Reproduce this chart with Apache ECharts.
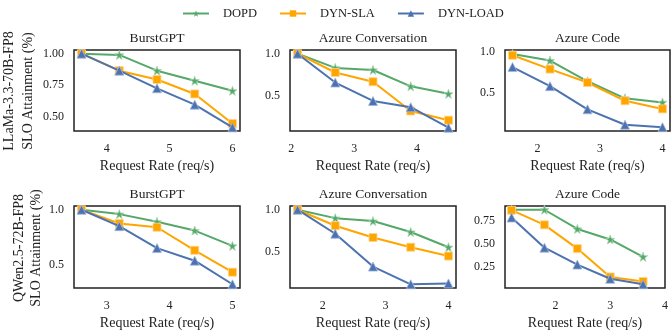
<!DOCTYPE html>
<html>
<head>
<meta charset="utf-8">
<script src="https://cdn.jsdelivr.net/npm/echarts@6/dist/echarts.min.js"></script>
<style>
  html, body { margin: 0; padding: 0; background: #fff; }
  #chart { width: 671px; height: 335px; }
</style>
</head>
<body>
<div id="chart"></div>
<script>
const seriesNames = ['DOPD', 'DYN-SLA', 'DYN-LOAD']
const panelTitles = ['BurstGPT', 'Azure Conversation', 'Azure Code', 'BurstGPT', 'Azure Conversation', 'Azure Code']
const rowLabels = ['LLaMa-3.3-70B-FP8\nSLO Attainment (%)', 'QWen2.5-72B-FP8\nSLO Attainment (%)']

// request rates per panel
const xTL = [3.6, 4.2, 4.8, 5.4, 6.0]
const xTM = [2.1, 2.7, 3.3, 3.9, 4.5]
const xTR = [1.6, 2.2, 2.8, 3.4, 4.0]
const xBL = [2.6, 3.2, 3.8, 4.4, 5.0]
const xBM = [1.6, 2.2, 2.8, 3.4, 4.0]
const xBR = [1.2, 1.8, 2.4, 3.0, 3.6]

// SLO attainment, LLaMa row
const dopdTL = [1.0, 0.99, 0.865, 0.785, 0.705]
const slaTL = [1.0, 0.865, 0.795, 0.68, 0.445]
const loadTL = [1.0, 0.865, 0.725, 0.595, 0.415]
const dopdTM = [1.0, 0.83, 0.805, 0.61, 0.52]
const slaTM = [1.0, 0.775, 0.665, 0.315, 0.205]
const loadTM = [1.0, 0.655, 0.435, 0.36, 0.115]
const dopdTR = [0.975, 0.895, 0.64, 0.43, 0.38]
const slaTR = [0.96, 0.79, 0.625, 0.4, 0.3]
const loadTR = [0.815, 0.58, 0.295, 0.105, 0.075]

// SLO attainment, QWen row
const dopdBL = [1.0, 0.96, 0.89, 0.81, 0.67]
const slaBL = [1.0, 0.875, 0.84, 0.63, 0.43]
const loadBL = [1.0, 0.85, 0.65, 0.535, 0.32]
const dopdBM = [1.0, 0.9, 0.865, 0.735, 0.555]
const slaBM = [1.0, 0.81, 0.67, 0.555, 0.45]
const loadBM = [1.0, 0.715, 0.325, 0.115, 0.125]
const dopdBR = [0.875, 0.875, 0.665, 0.55, 0.36]
const slaBR = [0.87, 0.71, 0.45, 0.14, 0.09]
const loadBR = [0.79, 0.46, 0.275, 0.12, 0.06]

// tick labels
const xTicksTL = [4, 5, 6]
const xTicksTM = [2, 3, 4]
const xTicksTR = [2, 3, 4]
const xTicksBL = [3, 4, 5]
const xTicksBM = [2, 3, 4]
const xTicksBR = [2, 3, 4]
const yTicksTL = [0.5, 0.75, 1.0]
const yTicksTM = [0.5, 1.0]
const yTicksTR = [0.5, 1.0]
const yTicksBL = [0.5, 1.0]
const yTicksBM = [0.5, 1.0]
const yTicksBR = [0.25, 0.5, 0.75]

const panels = [
  { x: xTL, ys: [dopdTL, slaTL, loadTL], xt: xTicksTL, yt: yTicksTL, dec: 2, xr: [3.48, 6.12], yr: [0.386, 1.029] },
  { x: xTM, ys: [dopdTM, slaTM, loadTM], xt: xTicksTM, yt: yTicksTM, dec: 1, xr: [1.98, 4.62], yr: [0.076, 1.044] },
  { x: xTR, ys: [dopdTR, slaTR, loadTR], xt: xTicksTR, yt: yTicksTR, dec: 1, xr: [1.48, 4.12], yr: [0.028, 1.025] },
  { x: xBL, ys: [dopdBL, slaBL, loadBL], xt: xTicksBL, yt: yTicksBL, dec: 1, xr: [2.48, 5.12], yr: [0.286, 1.034] },
  { x: xBM, ys: [dopdBM, slaBM, loadBM], xt: xTicksBM, yt: yTicksBM, dec: 1, xr: [1.48, 4.12], yr: [0.071, 1.044] },
  { x: xBR, ys: [dopdBR, slaBR, loadBR], xt: xTicksBR, yt: yTicksBR, dec: 2, xr: [1.08, 4.0], yr: [0.019, 0.916] },
]

const colors = ['#55a868', '#ffa500', '#4c72b0']
const edges = ['#a6d4b2', '#ffd38a', '#a3b8dc']
const starPath = 'path://M0,-10 L2.35,-3.24 L9.51,-3.09 L3.8,1.24 L5.88,8.09 L0,4 L-5.88,8.09 L-3.8,1.24 L-9.51,-3.09 L-2.35,-3.24 Z'
const symbols = [starPath, 'rect', 'triangle']
const symbolSizes = [9, 8, 9]

const font = 'Liberation Serif'
const cols = [{ left: 74, width: 166 }, { left: 290, width: 166 }, { left: 505, width: 165 }]
const rows = [{ top: 50, height: 81 }, { top: 206, height: 82 }]

const myChart = echarts.init(document.getElementById('chart'))

const grid = []
const xAxis = []
const yAxis = []
const series = []
const title = []

panels.forEach((p, i) => {
  const c = cols[i % 3]
  const r = rows[Math.floor(i / 3)]
  grid.push({
    left: c.left, top: r.top, width: c.width, height: r.height,
    show: true, borderColor: '#222', borderWidth: 1.5, backgroundColor: 'transparent',
  })
  xAxis.push({
    gridIndex: i, type: 'value', min: p.xr[0], max: p.xr[1],
    name: 'Request Rate (req/s)', nameLocation: 'middle', nameGap: 28,
    nameTextStyle: { fontFamily: font, fontSize: 14, color: '#222' },
    axisLine: { show: false }, axisTick: { show: false }, splitLine: { show: false },
    axisLabel: { customValues: p.xt, fontFamily: font, fontSize: 12, color: '#222', margin: 12 },
  })
  yAxis.push({
    gridIndex: i, type: 'value', min: p.yr[0], max: p.yr[1],
    axisLine: { show: false }, axisTick: { show: false }, splitLine: { show: false },
    axisLabel: {
      customValues: p.yt, fontFamily: font, fontSize: 12, color: '#222', margin: 10,
      formatter: v => v.toFixed(p.dec),
    },
  })
  title.push({
    text: panelTitles[i], left: c.left + c.width / 2, top: r.top - 19, textAlign: 'center', padding: 0,
    textStyle: { fontFamily: font, fontSize: 13.5, fontWeight: 'normal', color: '#222' },
  })
  p.ys.forEach((ys, k) => {
    series.push({
      name: seriesNames[k], type: 'line', xAxisIndex: i, yAxisIndex: i,
      data: p.x.map((xv, j) => [xv, ys[j]]),
      symbol: symbols[k], symbolSize: symbolSizes[k],
      lineStyle: { width: 2, color: colors[k] },
      itemStyle: { color: colors[k], borderColor: edges[k], borderWidth: 0.8 },
      z: 2 + k, animation: false,
    })
  })
})

myChart.setOption({
  backgroundColor: '#fff',
  animation: false,
  title,
  legend: {
    data: seriesNames, top: 2, left: 177,
    itemWidth: 26, itemHeight: 8, itemGap: 22,
    itemStyle: { borderWidth: 0 },
    textStyle: { fontFamily: font, fontSize: 12.5, color: '#222', padding: [0, 0, 0, 9] },
  },
  grid,
  xAxis,
  yAxis,
  series,
  graphic: [
    {
      type: 'text', x: 19, y: 91, rotation: Math.PI / 2,
      style: { text: rowLabels[0], fontFamily: font, fontSize: 14, lineHeight: 19, fill: '#222', align: 'center', verticalAlign: 'middle' },
    },
    {
      type: 'text', x: 28, y: 248, rotation: Math.PI / 2,
      style: { text: rowLabels[1], fontFamily: font, fontSize: 14, lineHeight: 17, fill: '#222', align: 'center', verticalAlign: 'middle' },
    },
  ],
})
</script>
</body>
</html>
